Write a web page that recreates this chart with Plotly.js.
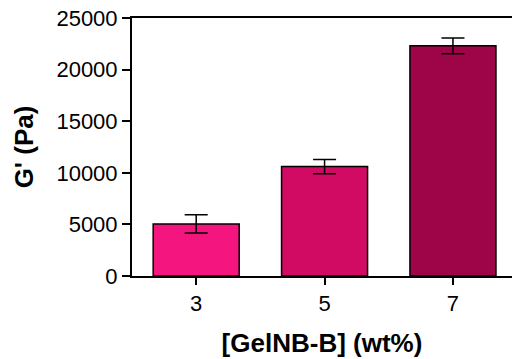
<!DOCTYPE html>
<html><head><meta charset="utf-8">
<script src="https://cdn.plot.ly/plotly-3.0.1.min.js"></script>
<style>html,body{margin:0;padding:0;background:#fff}</style>
</head><body>
<div id="chart" style="width:512px;height:359px"></div>
<script>
const categories = ["3", "5", "7"];
const values = [5050, 10600, 22300];
const errors = [880, 700, 760];
const barColors = ["#F5157F", "#D10A64", "#9E0548"];
const yTicks = [0, 5000, 10000, 15000, 20000, 25000];

const font = "Liberation Sans, Arial, sans-serif";
Plotly.newPlot("chart", [{
  type: "bar",
  x: [0, 1, 2],
  y: values,
  width: 0.67,
  marker: {color: barColors, line: {color: "#000", width: 1.5}},
  error_y: {type: "data", array: errors, visible: true, color: "#000", thickness: 1.5, width: 11.5}
}], {
  width: 512, height: 359,
  margin: {l: 132, r: 0, t: 18, b: 83},
  paper_bgcolor: "#fff", plot_bgcolor: "#fff",
  showlegend: false,
  xaxis: {
    range: [-0.5, 2.46], tickvals: [0, 1, 2], ticktext: categories,
    showgrid: false, zeroline: false, showline: true, linecolor: "#000", linewidth: 2,
    mirror: true, ticks: "outside", ticklen: 7, tickwidth: 2, tickcolor: "#000",
    tickfont: {family: font, size: 22, color: "#000"},
    title: {text: "<b>[GelNB-B] (wt%)</b>", font: {family: font, size: 26, color: "#000"}, standoff: 18}
  },
  yaxis: {
    range: [0, 25000], tickvals: yTicks, ticktext: yTicks.map(String),
    showgrid: false, zeroline: false, showline: true, linecolor: "#000", linewidth: 2,
    ticks: "outside", ticklen: 8, tickwidth: 2, tickcolor: "#000",
    tickfont: {family: font, size: 22, color: "#000"},
    title: {text: "<b>G' (Pa)</b>", font: {family: font, size: 26, color: "#000"}, standoff: 15}
  }
}, {displayModeBar: false, staticPlot: true});
</script>
</body></html>
